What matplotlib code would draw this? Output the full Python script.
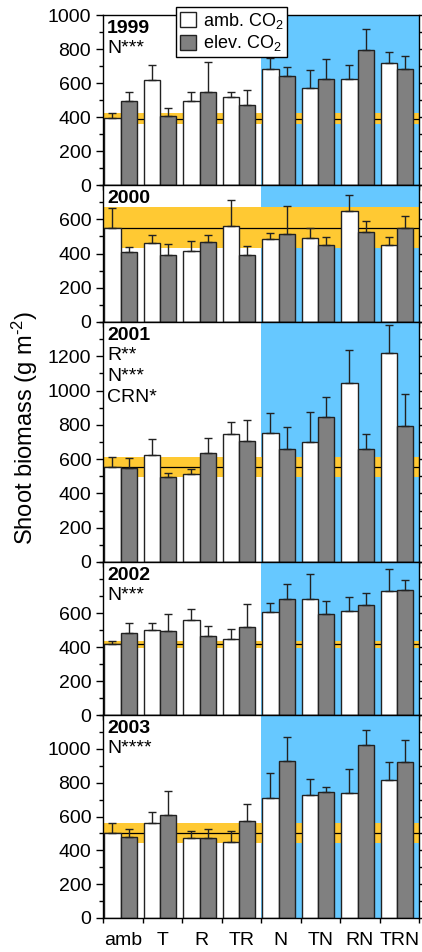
import numpy as np
import matplotlib
matplotlib.use("Agg")
import matplotlib.pyplot as plt
from matplotlib.patches import Patch
from matplotlib.ticker import MultipleLocator

plt.rcParams['font.family'] = ['Liberation Sans', 'DejaVu Sans']
plt.rcParams['mathtext.fontset'] = 'custom'
plt.rcParams['mathtext.rm'] = 'Liberation Sans'
plt.rcParams['mathtext.default'] = 'regular'

treatments = ['amb', 'T', 'R', 'TR', 'N', 'TN', 'RN', 'TRN']
years = ['1999', '2000', '2001', '2002', '2003']

# shoot biomass (g m-2), mean and upper SE
amb_1999 = [392, 616, 494, 520, 684, 571, 624, 718]
amb_1999_err = [30, 88, 55, 29, 63, 107, 80, 64]
elev_1999 = [494, 408, 545, 469, 639, 622, 796, 682]
elev_1999_err = [55, 47, 179, 90, 57, 117, 124, 75]

amb_2000 = [551, 459, 416, 563, 483, 492, 647, 448]
amb_2000_err = [117, 47, 55, 150, 35, 55, 92, 50]
elev_2000 = [408, 389, 467, 389, 512, 448, 528, 551]
elev_2000_err = [32, 64, 39, 57, 168, 50, 62, 67]

amb_2001 = [554, 626, 513, 745, 753, 701, 1045, 1221]
amb_2001_err = [60, 90, 29, 74, 114, 176, 190, 159]
elev_2001 = [548, 496, 635, 703, 660, 848, 660, 796]
elev_2001_err = [58, 23, 91, 126, 130, 114, 89, 182]

amb_2002 = [415, 500, 561, 448, 606, 682, 612, 731]
amb_2002_err = [23, 41, 64, 58, 54, 150, 82, 129]
elev_2002 = [485, 493, 467, 518, 682, 596, 649, 733]
elev_2002_err = [58, 99, 55, 134, 89, 72, 71, 63]

amb_2003 = [504, 559, 471, 451, 712, 729, 739, 816]
amb_2003_err = [59, 70, 45, 65, 143, 91, 141, 106]
elev_2003 = [480, 608, 471, 575, 929, 747, 1024, 920]
elev_2003_err = [47, 145, 56, 98, 142, 29, 88, 133]

# ambient control mean +- SE (orange band)
band_mean = [390, 551, 556, 415, 504]
band_se = [32, 118, 58, 23, 60]

ymax = [1000, 800, 1400, 900, 1200]
ylabels_top = [1000, 600, 1200, 600, 1000]
stats = [['N***'], [], ['R**', 'N***', 'CRN*'], ['N***'], ['N****']]

amb = [amb_1999, amb_2000, amb_2001, amb_2002, amb_2003]
amb_err = [amb_1999_err, amb_2000_err, amb_2001_err, amb_2002_err, amb_2003_err]
elev = [elev_1999, elev_2000, elev_2001, elev_2002, elev_2003]
elev_err = [elev_1999_err, elev_2000_err, elev_2001_err, elev_2002_err, elev_2003_err]

W, H = 422, 952
fig = plt.figure(figsize=(W / 100, H / 100), dpi=100)

# panel edges in pixels from top
edges = [15, 185, 322, 562, 715, 918]
left, right = 103, 419

blue = '#66C8FF'
orange = '#FFC933'
x = np.arange(len(treatments))

for k in range(5):
    top_px, bot_px = edges[k], edges[k + 1]
    ax = fig.add_axes([left / W, 1 - bot_px / H, (right - left) / W, (bot_px - top_px) / H])
    ax.axvspan(4, 8, color=blue, lw=0, zorder=0)
    ax.axhspan(band_mean[k] - band_se[k], band_mean[k] + band_se[k], color=orange, lw=0, zorder=1)
    ax.axhline(band_mean[k], color='black', lw=0.9, zorder=1.5)

    xa = x + 0.24
    xe = x + 0.655
    ax.bar(xa, amb[k], width=0.41, color='white', edgecolor='#222222', lw=1, zorder=2)
    ax.bar(xe, elev[k], width=0.41, color='#808080', edgecolor='#222222', lw=1, zorder=2)
    ax.errorbar(xa, amb[k], yerr=[np.zeros(8), amb_err[k]], fmt='none', ecolor='#222222',
                elinewidth=1, capsize=2.6, capthick=1, zorder=3)
    ax.errorbar(xe, elev[k], yerr=[np.zeros(8), elev_err[k]], fmt='none', ecolor='#222222',
                elinewidth=1, capsize=2.6, capthick=1, zorder=3)

    ax.set_xlim(0, 8)
    ax.set_ylim(0, ymax[k])
    ax.set_yticks(np.arange(0, ylabels_top[k] + 1, 200))
    ax.yaxis.set_minor_locator(MultipleLocator(100))
    ax.tick_params(axis='y', which='both', direction='out', right=True, labelsize=14, width=1)
    ax.tick_params(axis='y', which='major', length=5)
    ax.tick_params(axis='y', which='minor', length=3)
    ax.set_xticks(np.arange(0, 9))
    ax.tick_params(axis='x', which='major', direction='out', length=3.5, width=1, labelbottom=False)
    if k == 4:
        ax.set_xticks(x + 0.5, minor=True)
        ax.set_xticklabels(treatments, minor=True)
        ax.tick_params(axis='x', which='minor', length=0, labelsize=14, pad=10)
    for s in ax.spines.values():
        s.set_linewidth(1)

    ax.annotate(years[k], xy=(0, 1), xycoords='axes fraction', xytext=(4, -5),
                textcoords='offset pixels', ha='left', va='top', fontsize=14, fontweight='bold')
    for j, s in enumerate(stats[k]):
        ax.annotate(s, xy=(0, 1), xycoords='axes fraction', xytext=(4, -25 - 21 * j),
                    textcoords='offset pixels', ha='left', va='top', fontsize=14)

handles = [Patch(facecolor='white', edgecolor='#222222'),
           Patch(facecolor='#808080', edgecolor='#222222')]
fig.legend(handles, ['amb. CO$_2$', 'elev. CO$_2$'], loc='upper left',
           bbox_to_anchor=(176 / W, 1 - 7 / H), fontsize=13, frameon=True, fancybox=False,
           edgecolor='black', framealpha=1, handlelength=0.9, handleheight=0.9,
           handletextpad=0.4, borderpad=0.2, labelspacing=0.15, borderaxespad=0)

fig.text(25 / W, 1 - 428 / H, r'Shoot biomass (g m$^{\text{-2}}$)', rotation=90, ha='center',
         va='center', fontsize=17)

fig.savefig('out.png', dpi=100)
